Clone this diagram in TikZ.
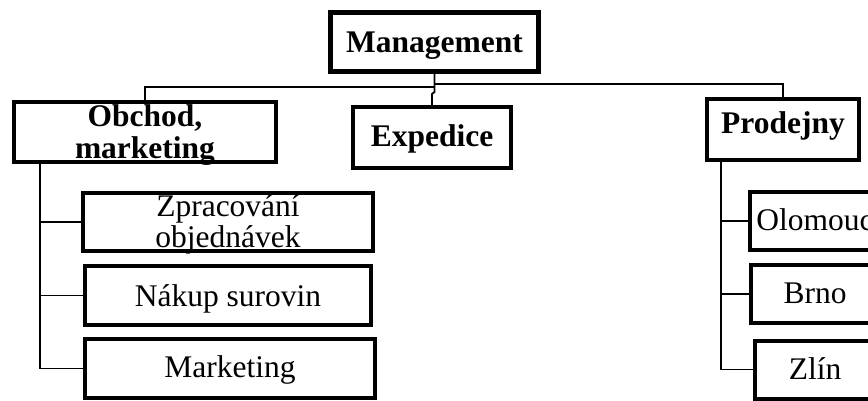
\documentclass[tikz,border=0pt]{standalone}
\usepackage{fontspec}
\setmainfont{Liberation Serif}
\begin{document}
\begin{tikzpicture}[x=1pt,y=-1pt,
  box/.style={draw=black,line width=4pt,fill=white,inner sep=0pt,rectangle},
  mbox/.style={box,line width=5pt},
  conn/.style={draw=black,line width=1.8pt},
  lbl/.style={inner sep=0pt,anchor=base,font=\fontsize{31.5}{32}\selectfont},
  blbl/.style={lbl,font=\fontsize{31.5}{32}\selectfont\bfseries}]
\useasboundingbox (0,0) rectangle (868,401);
\clip (0,0) rectangle (868,401);

% boxes
\node[mbox,minimum width=208pt,minimum height=59pt] (mgmt) at (434.5,42) {};
\node[box,minimum width=262pt,minimum height=60pt] (obchod) at (145,132) {};
\node[box,minimum width=158pt,minimum height=61pt] (expedice) at (432,137.5) {};
\node[box,minimum width=152pt,minimum height=61pt] (prodejny) at (783,129.5) {};
\node[box,minimum width=290pt,minimum height=58pt] (zprac) at (228,222) {};
\node[box,minimum width=286pt,minimum height=59pt] (nakup) at (228,295.5) {};
\node[box,minimum width=290pt,minimum height=59pt] (mark) at (230,368.5) {};
\node[box,minimum width=130pt,minimum height=58pt] (olom) at (815,221) {};
\node[box,minimum width=128pt,minimum height=58pt] (brno) at (815,294) {};
\node[box,minimum width=120pt,minimum height=58pt] (zlin) at (815,369.5) {};

% texts
\node[blbl] (tmgmt) at (434.5,53) {Management};
\node[blbl] (tob1) at (145,127) {Obchod,};
\node[blbl] (tob2) at (145,158.5) {marketing};
\node[blbl] (texp) at (432,147) {Expedice};
\node[blbl] (tprod) at (783,134) {Prodejny};
\node[lbl] (tzp1) at (228,216.5) {Zpracování};
\node[lbl] (tzp2) at (228,247.5) {objednávek};
\node[lbl] (tnak) at (228,306) {Nákup surovin};
\node[lbl] (tmark) at (230,377.5) {Marketing};
\node[lbl] (tolom) at (815,230) {Olomouc};
\node[lbl] (tbrno) at (815,303) {Brno};
\node[lbl] (tzlin) at (815,379) {Zlín};

% top-level connectors
\coordinate (jl) at (434.5,87);
\coordinate (jr) at (434.5,84);
\coordinate (je1) at (434.5,92);
\coordinate (je2) at (432,94);
\draw[conn] (mgmt.south) -- (jl) -| (obchod.north);
\draw[conn] (jr) -| (prodejny.north);
\draw[conn] (mgmt.south) -- (je1) -- (je2) -- (expedice.north);

% left subtree
\coordinate (obtrunk) at (40,164);
\draw[conn] (obtrunk) |- (mark.west);
\draw[conn] (zprac.west) -- (zprac.west -| obtrunk);
\draw[conn] (nakup.west) -- (nakup.west -| obtrunk);

% right subtree
\coordinate (prtrunk) at (721,162);
\draw[conn] (prtrunk) |- (zlin.west);
\draw[conn] (olom.west) -- (olom.west -| prtrunk);
\draw[conn] (brno.west) -- (brno.west -| prtrunk);
\end{tikzpicture}
\end{document}
